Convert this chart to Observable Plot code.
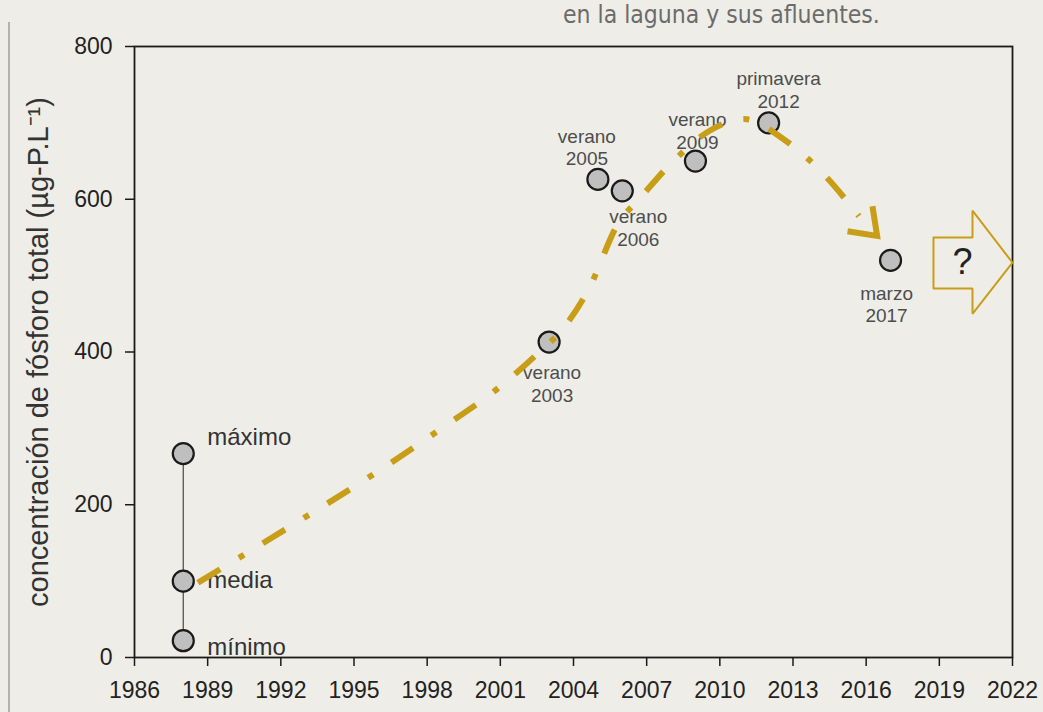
<!DOCTYPE html>
<html>
<head>
<meta charset="utf-8">
<script src="https://cdn.jsdelivr.net/npm/d3@7"></script>
<script src="https://cdn.jsdelivr.net/npm/@observablehq/plot@0.6"></script>
<style>
  html, body { margin: 0; padding: 0; background: #efede7; }
  #wrap { position: relative; width: 1043px; height: 712px; overflow: hidden; background: #efede7; }
  #edge { position: absolute; left: 8px; top: 22px; width: 2px; height: 690px; background: #b4b2ac; }
  #title { position: absolute; left: 563px; top: 3px; line-height: 24px; font-family: "Liberation Sans Narrow", "DejaVu Sans Condensed", sans-serif; font-stretch: condensed; font-size: 24.5px; color: #6b6b6b; white-space: nowrap; }
  #chart { position: absolute; left: 0; top: 0; }
</style>
</head>
<body>
<div id="wrap">
  <div id="edge"></div>
  <div id="title">en la laguna y sus afluentes.</div>
  <div id="chart"></div>
</div>
<script>
// ---- data ----
const rangeYear = 1988;
const rangeLabels = ["mínimo", "media", "máximo"];
const rangeValues = [22, 100, 267];

const sampleYears = [2003, 2005, 2006, 2009, 2012, 2017];
const sampleValues = [413, 626, 611, 650, 700, 520];
const sampleSeasons = ["verano", "verano", "verano", "verano", "primavera", "marzo"];

const trendYears  = [1988.6, 1992.3, 1995.9, 1998.5, 2001, 2002.6, 2003.5, 2004.6, 2005.9, 2006.6, 2008.1, 2009.6, 2011, 2012.6, 2014.25, 2015.7];
const trendValues = [98,     170,    242,    298,    355,  400,    428,    481,    572,    597,    650,    690,    705,  679,    633,     578];

const arrowTip = [2016.45, 552];

const futureYears  = [2018.76, 2020.36, 2020.36, 2022, 2020.36, 2020.36, 2018.76, 2018.76];
const futureValues = [550,     550,     585,     517,  450,     483,     483,     550];
const futureLabel = "?";
const futureLabelPos = [2019.95, 517];

const xTicks = [1986, 1989, 1992, 1995, 1998, 2001, 2004, 2007, 2010, 2013, 2016, 2019, 2022];
const yTicks = [0, 200, 400, 600, 800];
const yLabel = "concentración de fósforo total (µg-P.L⁻¹)";

// ---- tables ----
const rangeData = rangeLabels.map((label, i) => ({year: rangeYear, value: rangeValues[i], label}));
const samples = sampleYears.map((year, i) => ({year, value: sampleValues[i], label: `${sampleSeasons[i]}\n${year}`}));
const trend = trendYears.map((year, i) => ({year, value: trendValues[i]}));
const future = futureYears.map((year, i) => ({year, value: futureValues[i]}));

const gold = "#c89e18";
const font = "'Liberation Sans', Arial, sans-serif";

function sampleLabel(year, opts) {
  return Plot.text(samples.filter(d => d.year === year), {
    x: "year", y: "value", text: "label",
    fontSize: 19, fill: "#4d4d4d", lineHeight: 1.2, ...opts
  });
}
function rangeLabel(label, dy) {
  return Plot.text(rangeData.filter(d => d.label === label), {
    x: "year", y: "value", text: "label", textAnchor: "start", dx: 24, dy,
    fontSize: 24, fill: "#333"
  });
}

// open chevron arrowhead, tip at the anchor, arms opening backwards
const chevron = {
  draw(context, l) {
    const t = 36 * Math.PI / 180;
    const ax = l * Math.sin(t), ay = l * Math.cos(t);
    context.moveTo(-ax, ay);
    context.lineTo(0, 0);
    context.lineTo(ax, ay);
  }
};

const chart = Plot.plot({
  width: 1043,
  height: 712,
  marginLeft: 134,
  marginRight: 31,
  marginTop: 46,
  marginBottom: 55,
  style: {background: "transparent", fontFamily: font, color: "#222"},
  x: {domain: [1986, 2022], label: null},
  y: {domain: [0, 800], label: null},
  marks: [
    Plot.frame({stroke: "#1a1a1a", strokeWidth: 1.8}),
    Plot.axisX({ticks: xTicks, tickFormat: d => String(d), tickSize: 9, tickPadding: 15, fontSize: 23, stroke: "#1a1a1a", strokeWidth: 1.5, fill: "#222", label: null}),
    Plot.axisY({ticks: yTicks, tickSize: 9, tickPadding: 13, fontSize: 23, stroke: "#1a1a1a", strokeWidth: 1.5, fill: "#222", label: null}),
    Plot.ruleX([rangeYear], {y1: rangeValues[0], y2: rangeValues[2], stroke: "#555", strokeWidth: 1.3}),
    Plot.dot(rangeData, {x: "year", y: "value", r: 10.5, fill: "#bfbfbf", stroke: "#1a1a1a", strokeWidth: 2.2}),
    rangeLabel("máximo", -16),
    rangeLabel("media", -1),
    rangeLabel("mínimo", 7),
    Plot.dot(samples, {x: "year", y: "value", r: 10.5, fill: "#bfbfbf", stroke: "#1a1a1a", strokeWidth: 2.2}),
    sampleLabel(2003, {lineAnchor: "top", dx: 3, dy: 21}),
    sampleLabel(2005, {lineAnchor: "bottom", dx: -11, dy: -14}),
    sampleLabel(2006, {lineAnchor: "top", dx: 16, dy: 16}),
    sampleLabel(2009, {lineAnchor: "bottom", dx: 2, dy: -12}),
    sampleLabel(2012, {lineAnchor: "bottom", dx: 10, dy: -15}),
    sampleLabel(2017, {lineAnchor: "top", dx: -4, dy: 23}),
    Plot.line(trend, {x: "year", y: "value", curve: "monotone-x", stroke: gold, strokeWidth: 6,
      strokeDasharray: "26,22,6,22", strokeLinecap: "butt"}),
    Plot.vector([arrowTip], {x: d => d[0], y: d => d[1], length: 30, rotate: 135, anchor: "start",
      shape: chevron, stroke: gold, strokeWidth: 6, strokeLinecap: "butt", strokeLinejoin: "miter"}),
    Plot.line(future, {x: "year", y: "value", stroke: gold, strokeWidth: 2, curve: "linear", strokeLinejoin: "miter"}),
    Plot.text([futureLabelPos], {x: d => d[0], y: d => d[1], text: () => futureLabel, fontSize: 36, fill: "#222"}),
    Plot.text([yLabel], {frameAnchor: "left", textAnchor: "middle", dx: -96, rotate: -90, fontSize: 29, fill: "#333"})
  ]
});
document.getElementById("chart").appendChild(chart);
</script>
</body>
</html>
